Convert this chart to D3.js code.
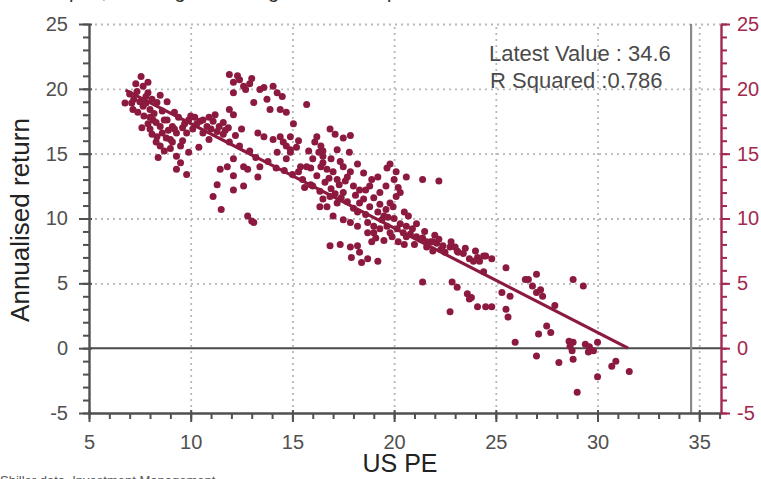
<!DOCTYPE html>
<html>
<head>
<meta charset="utf-8">
<script src="https://cdn.jsdelivr.net/npm/d3@7"></script>
<style>
  body { margin: 0; background: #fff; }
  svg { display: block; font-family: "Liberation Sans", Arial, sans-serif; }
</style>
</head>
<body>
<svg class="chart"></svg>
<script>
// US PE vs subsequent annualised return

var peReturnPairs = [
  [6.77,18.9],[7.56,20.95],[7.36,19.8],[7.66,20.2],[7.9,19.7],[7.16,18.4],[7.66,18.65],[8.0,18.4],
  [8.34,18.95],[8.84,19.0],[8.15,17.6],[8.5,17.1],[8.34,16.3],[8.5,15.6],[8.4,14.7],[9.0,16.1],
  [9.3,16.6],[9.5,15.6],[9.3,14.8],[9.3,13.8],[9.8,13.4],[8.0,16.9],[8.84,17.6],[9.1,17.1],
  [7.2,19.2],[7.5,19.0],[7.8,18.9],[7.4,18.2],[7.7,17.9],[8.0,17.8],[8.2,18.1],[8.6,18.3],
  [8.7,17.6],[8.9,16.8],[8.1,16.5],[7.9,17.3],[7.6,17.0],[8.3,15.9],[8.7,15.2],[9.0,15.4],
  [9.6,16.0],[9.8,16.6],[9.7,17.3],[9.4,17.8],[9.2,18.2],[8.5,19.5],[7.9,20.5],[7.3,20.4],
  [9.9,15.1],[9.5,14.3],
  [7.0,19.6],[7.1,18.9],[7.8,19.4],[8.1,19.2],[8.3,17.4],[8.6,16.6],[8.8,16.2],[9.1,15.9],
  [9.2,16.9],[9.6,17.0],[9.9,17.6],[10.2,17.8],[10.6,17.6],[10.9,17.8],[11.4,17.1],[11.7,16.8],
  [12.2,16.4],[12.4,15.6],[12.9,15.2],[13.2,14.7],[13.8,14.4],[14.2,13.9],[14.6,13.7],[15.0,13.4],
  [10.0,17.9],[10.46,17.5],[10.8,17.1],[11.1,17.5],[11.3,16.7],[11.6,16.5],[10.4,15.5],[10.9,16.1],
  [11.85,17.0],[12.5,16.9],[11.9,15.9],[12.1,14.6],[12.6,14.0],[11.8,14.0],[11.45,13.8],[12.1,13.3],
  [12.8,13.8],[13.3,13.2],[13.4,14.0],[12.6,12.5],[12.1,12.2],[11.3,12.6],[11.1,11.7],[11.5,10.7],
  [12.8,10.2],[13.0,9.8],[13.1,9.7],[10.1,16.9],[10.3,17.3],[10.6,16.6],[11.0,16.9],[11.6,17.4],
  [11.2,18.0],
  [11.9,21.1],[12.1,20.5],[12.4,20.7],[12.6,20.2],[12.7,19.95],[12.1,19.7],[11.9,18.4],[12.1,18.0],
  [12.3,21.0],[12.9,20.4],[13.0,20.8],
  [13.4,19.95],[13.6,20.1],[14.05,20.2],[14.25,19.7],[14.5,19.4],[13.1,18.95],[13.75,19.2],[13.9,18.4],
  [14.4,18.4],[14.7,18.2],[15.05,17.3],[15.7,18.8],[13.3,16.6],[13.6,16.3],[14.05,16.1],[14.4,16.3],
  [14.55,15.9],[14.7,15.6],[14.25,15.1],[14.9,15.1],[14.7,14.6],[15.4,14.0],[15.7,14.0],
  [16.2,16.3],[16.85,16.9],[17.1,16.5],[17.5,16.2],[17.85,16.4],[16.1,15.9],[16.4,15.6],[16.5,15.2],
  [16.5,14.8],[16.3,15.1],[15.3,13.6],[15.9,13.9],[16.5,14.3],[16.7,13.8],[17.0,13.6],[17.35,14.4],
  [17.5,14.0],[17.85,13.6],[17.2,13.0],[17.7,13.2],[18.0,12.5],[18.3,12.2],[18.6,12.2],[18.8,12.5],
  [19.2,13.2],[19.65,13.9],[20.1,13.6],[20.6,13.2],[21.4,13.0],[22.2,12.9],[19.6,12.5],[20.2,12.4],
  [20.1,11.7],[19.8,11.2],[19.6,10.7],[19.5,10.2],[19.95,10.9],[16.0,12.5],[16.35,12.1],[16.5,11.5],
  [16.7,10.9],[16.35,10.9],[16.85,11.7],[17.2,11.2],[17.5,12.0],[17.7,11.3],[18.0,10.8],[18.3,11.2],
  [18.2,10.5],[18.6,10.3],[18.8,10.9],[19.2,10.5],[17.0,10.2],[17.5,9.9],[17.85,9.7],[18.2,9.4],
  [18.7,9.7],[19.0,9.4],[19.3,9.2],[19.65,9.4],[19.8,8.9],[20.15,9.2],[20.45,8.9],[20.8,8.8],
  [21.1,8.6],[21.4,8.5],[21.8,8.2],[22.1,8.1],[22.4,7.9],[22.75,7.8],[23.1,7.5],[23.4,7.3],
  [23.7,6.9],[24.1,7.0],[24.4,7.1],[19.0,8.9],[18.7,8.9],[16.85,7.9],[17.35,8.0],[17.85,7.8],
  [18.2,7.9],[18.3,7.4],[17.9,7.0],[18.7,6.9],[19.2,6.7],[18.4,6.6],[21.4,5.1],[22.85,5.1],
  [23.6,4.2],[23.8,3.9],
  [14.9,16.3],[14.9,15.3],[15.5,13.0],[15.9,12.6],[16.2,13.3],[16.6,12.8],[16.9,12.3],[17.3,12.6],
  [17.6,12.9],[16.8,13.1],[17.1,11.9],[17.4,11.6],[18.1,11.8],[18.5,11.5],[15.6,12.4],[16.0,14.6],
  [15.8,15.2],[15.3,16.0],[15.2,15.5],
  [16.4,14.0],[16.9,14.6],[17.2,15.3],[17.8,15.1],[18.2,14.2],[18.5,13.5],[18.9,13.0],[19.3,12.0],
  [19.0,11.6],[19.3,11.1],[20.5,10.5],[21.1,9.6],[21.5,9.0],[22.0,8.7],[22.8,8.2],[23.5,7.7],
  [24.0,7.5],[24.8,6.9],
  [19.4,9.9],[19.7,10.1],[20.0,10.0],[20.3,9.6],[20.6,9.4],[20.9,9.2],[19.1,8.5],[19.5,8.3],
  [19.9,8.6],[20.2,8.2],[20.5,8.0],[21.0,8.0],[21.6,7.8],[22.5,7.4],[18.9,8.2],
  [19.8,14.2],[20.0,13.0],[20.3,12.0],
  [20.7,10.2],[20.6,8.6],[21.3,8.4],[21.6,8.2],[21.9,8.2],[22.2,8.4],[21.9,7.5],[22.3,7.6],
  [23.0,7.8],[23.15,7.4],[23.9,6.7],[24.2,6.7],[24.5,7.1],[24.4,5.9],[23.1,4.7],[23.7,3.8],
  [24.1,3.2],[24.5,3.2],[24.8,3.2],[22.75,2.8],[25.5,6.2],[25.3,4.3],[25.7,4.0],[25.5,3.0],
  [25.6,2.4],[25.95,0.46],[26.45,5.3],[26.6,5.3],[27.0,5.7],[26.8,4.8],[27.2,4.5],[27.3,4.0],
  [27.0,4.3],[27.9,3.3],[27.5,1.7],[27.7,1.2],[27.1,1.1],[27.0,-0.6],[28.1,-1.1],[28.8,-0.85],
  [29.0,-3.4],[28.8,5.3],[29.3,4.8],[28.6,0.54],[28.65,0.15],[28.8,0.46],[28.75,-0.2],[29.4,0.3],
  [29.6,0.1],[29.55,-0.3],[29.8,-0.2],[30.0,0.46],[30.0,-2.2],[30.7,-1.4],[30.9,-1.0],[31.56,-1.8]
];

// fitted trend line ends
var fitLine = [[6.8, 19.9], [31.5, 0]];

var xTicks = [5, 10, 15, 20, 25, 30, 35];
var yTicks = [-5, 0, 5, 10, 15, 20, 25];
var latestValue = 34.6;
var rSquared = 0.786;

var ui = {
  width: 761,
  height: 479,
  left: 89,
  right: 721,
  top: 24,
  bottom: 413,
  dot: "#8c1a3f",
  red: "#a3284f",
  ink: "#505050",
  grid: "#b8b8b8"
};

var chart = d3.select(".chart")
  .attr("width", ui.width)
  .attr("height", ui.height);

var x = d3.scaleLinear().domain([5, 36.07]).range([ui.left, ui.right]);
var y = d3.scaleLinear().domain([-5, 25]).range([ui.bottom, ui.top]);

var minorX = d3.range(5, 37, 1);
var minorY = d3.range(-5, 26, 1);
var plain = function(d) { return String(d); };

// dotted grid
chart.append("g")
  .attr("transform", "translate(0," + ui.bottom + ")")
  .call(d3.axisBottom(x).tickValues(xTicks.slice(1)).tickSize(-(ui.bottom - ui.top)).tickFormat(""))
  .call(function(g) { g.select(".domain").remove(); })
  .selectAll("line")
  .attr("stroke", ui.grid).attr("stroke-width", 1.8).attr("stroke-dasharray", "2,4");

chart.append("g")
  .attr("transform", "translate(" + ui.left + ",0)")
  .call(d3.axisLeft(y).tickValues([5, 10, 15, 20, 25]).tickSize(-(ui.right - ui.left)).tickFormat(""))
  .call(function(g) { g.select(".domain").remove(); })
  .selectAll("line")
  .attr("stroke", ui.grid).attr("stroke-width", 1.8).attr("stroke-dasharray", "2,4");

// zero line
chart.append("line")
  .attr("x1", ui.left).attr("x2", ui.right)
  .attr("y1", y(0)).attr("y2", y(0))
  .attr("stroke", "#4a4a4a").attr("stroke-width", 2);

// latest value marker
chart.append("line")
  .attr("x1", x(latestValue)).attr("x2", x(latestValue))
  .attr("y1", ui.top).attr("y2", ui.bottom)
  .attr("stroke", "#8a8a8a").attr("stroke-width", 2.2);

// points
chart.append("g").selectAll("circle")
  .data(peReturnPairs)
  .enter().append("circle")
  .attr("cx", function(d) { return x(d[0]); })
  .attr("cy", function(d) { return y(d[1]); })
  .attr("r", 3.5)
  .attr("fill", ui.dot);

// trend line
chart.append("path")
  .datum(fitLine)
  .attr("d", d3.line().x(function(d) { return x(d[0]); }).y(function(d) { return y(d[1]); }))
  .attr("stroke", ui.dot).attr("stroke-width", 3.2).attr("fill", "none");

// left axis
var leftMinor = chart.append("g")
  .attr("transform", "translate(" + ui.left + ",0)")
  .call(d3.axisLeft(y).tickValues(minorY).tickSize(6).tickSizeOuter(0).tickFormat(""));
leftMinor.selectAll("line").attr("stroke", ui.ink).attr("stroke-width", 2);
leftMinor.select(".domain").attr("stroke", ui.ink).attr("stroke-width", 2.4);

var leftMajor = chart.append("g")
  .attr("transform", "translate(" + ui.left + ",0)")
  .call(d3.axisLeft(y).tickValues(yTicks).tickSize(10).tickPadding(11).tickSizeOuter(0).tickFormat(plain));
leftMajor.select(".domain").remove();
leftMajor.selectAll("line").attr("stroke", ui.ink).attr("stroke-width", 2).attr("x2", -10).attr("x1", 3);
leftMajor.selectAll("text").attr("fill", ui.ink).style("font-size", "20px");

// bottom axis
var bottomMinor = chart.append("g")
  .attr("transform", "translate(0," + ui.bottom + ")")
  .call(d3.axisBottom(x).tickValues(minorX).tickSize(6).tickSizeOuter(0).tickFormat(""));
bottomMinor.selectAll("line").attr("stroke", ui.ink).attr("stroke-width", 2);
bottomMinor.select(".domain").attr("stroke", ui.ink).attr("stroke-width", 2.4);

var bottomMajor = chart.append("g")
  .attr("transform", "translate(0," + ui.bottom + ")")
  .call(d3.axisBottom(x).tickValues(xTicks).tickSize(9).tickPadding(13).tickSizeOuter(0).tickFormat(plain));
bottomMajor.select(".domain").remove();
bottomMajor.selectAll("line").attr("stroke", ui.ink).attr("stroke-width", 2).attr("y1", -3);
bottomMajor.selectAll("text").attr("fill", ui.ink).style("font-size", "20px");

// right axis in red
var rightMinor = chart.append("g")
  .attr("transform", "translate(" + ui.right + ",0)")
  .call(d3.axisRight(y).tickValues(minorY).tickSize(6).tickSizeOuter(0).tickFormat(""));
rightMinor.selectAll("line").attr("stroke", ui.red).attr("stroke-width", 2);
rightMinor.select(".domain").attr("stroke", ui.red).attr("stroke-width", 2.4);

var rightMajor = chart.append("g")
  .attr("transform", "translate(" + ui.right + ",0)")
  .call(d3.axisRight(y).tickValues(yTicks).tickSize(9).tickPadding(7).tickSizeOuter(0).tickFormat(plain));
rightMajor.select(".domain").remove();
rightMajor.selectAll("line").attr("stroke", ui.red).attr("stroke-width", 2);
rightMajor.selectAll("text").attr("fill", ui.red).style("font-size", "20px");

chart.selectAll(".tick text").attr("font-family", null);

// annotation
chart.append("text")
  .attr("x", 489).attr("y", 61)
  .attr("fill", "#4a4a4a").style("font-size", "22px")
  .text("Latest Value : " + latestValue);
chart.append("text")
  .attr("x", 490).attr("y", 88)
  .attr("fill", "#4a4a4a").style("font-size", "22px")
  .text("R Squared :" + rSquared);

// axis titles
chart.append("text")
  .attr("transform", "translate(29,220) rotate(-90)")
  .attr("text-anchor", "middle")
  .attr("fill", "#222").style("font-size", "26px")
  .text("Annualised return");
chart.append("text")
  .attr("x", 400).attr("y", 472)
  .attr("text-anchor", "middle")
  .attr("fill", "#222")
  .style("font-family", "'Liberation Sans Narrow', 'Liberation Sans', sans-serif")
  .style("font-size", "25px")
  .text("US PE");

// title and source, cut off by the frame as in the picture
chart.append("text")
  .attr("x", 0).attr("y", -2)
  .attr("fill", "#333").style("font-size", "20px")
  .text("Scatter plot, showing US PE against subsequent annualised return");
chart.append("text")
  .attr("x", 0).attr("y", 485)
  .attr("fill", "#555").style("font-size", "13px")
  .text("Shiller data, Investment Management");
</script>
</body>
</html>
